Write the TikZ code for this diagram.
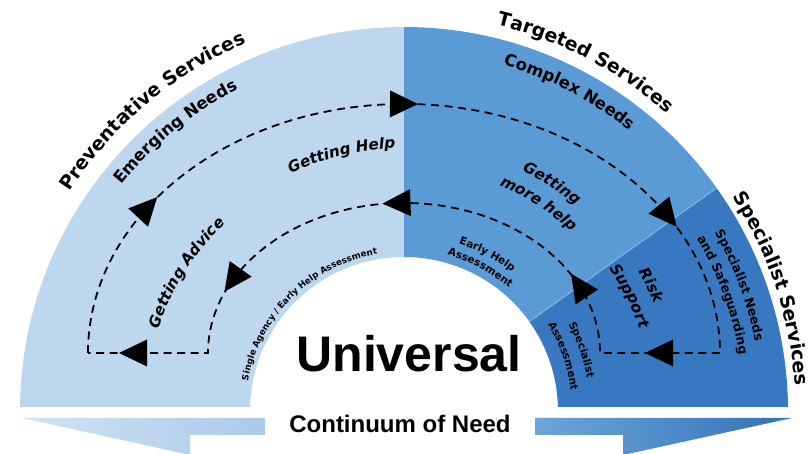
\documentclass[tikz,border=0pt]{standalone}
\usepackage{fontspec}
\setmainfont{DejaVu Sans}
\newfontfamily\arialf{Liberation Sans}
\usetikzlibrary{calc,decorations.text}
\definecolor{lightb}{HTML}{BDD7EE}
\definecolor{medb}{HTML}{5B9BD5}
\definecolor{darkb}{HTML}{3778C1}
\definecolor{sepb}{HTML}{86B3E0}
\newcommand{\fT}{\fontsize{19}{21}\selectfont\bfseries}
\newcommand{\fS}{\fontsize{16.5}{19}\selectfont\bfseries}
\newcommand{\fM}{\fontsize{12.5}{14}\selectfont\bfseries}
\newcommand{\fI}{\fontsize{15.2}{17}\selectfont\bfseries\itshape}
\newcommand{\fSm}{\fontsize{10.5}{12}\selectfont\bfseries}
\newcommand{\fXs}{\fontsize{8.8}{10}\selectfont\bfseries}
\newcommand{\arctext}[4]{\path[decorate,decoration={text along path,text align=center,text={#4}}]
  ($(O)+({#2+#3}:#1)$) arc[start angle={#2+#3},end angle={#2-#3},radius=#1];}
\newcommand{\ehead}[4]{%
  \path (C) ++({#1*cos(#3)},{#2*sin(#3)}) coordinate (hP);
  \path (C) ++({#1*cos(#3+#4)},{#2*sin(#3+#4)}) coordinate (hQ);
  \coordinate (hT) at ($(hP)!14pt!(hQ)$);
  \coordinate (hB) at ($(hP)!-14pt!(hQ)$);
  \fill[black] (hT) -- ($(hB)!13.5pt!90:(hT)$) -- ($(hB)!13.5pt!-90:(hT)$) -- cycle;}
\tikzset{dashline/.style={line width=1.8pt,dash pattern=on 8pt off 5.5pt,black}}
\begin{document}
\begin{tikzpicture}[x=1pt,y=1pt]
\useasboundingbox (0,0) rectangle (811,454);
\coordinate (O) at (404,43);
\coordinate (C) at (404,101);
% sectors
\begin{scope}
\clip (0,47) rectangle (811,454);
\fill[lightb] ($(O)+(90:384)$) arc[start angle=90,end angle=180,radius=384] -- ($(O)+(180:154)$) arc[start angle=180,end angle=90,radius=154] -- cycle;
\fill[medb] ($(O)+(35.5:384)$) arc[start angle=35.5,end angle=90,radius=384] -- ($(O)+(90:154)$) arc[start angle=90,end angle=35.5,radius=154] -- cycle;
\fill[darkb] ($(O)+(0:384)$) arc[start angle=0,end angle=35.5,radius=384] -- ($(O)+(35.5:154)$) arc[start angle=35.5,end angle=0,radius=154] -- cycle;
\end{scope}
\draw[sepb,line width=1pt] ($(O)+(35.5:154)$) -- ($(O)+(35.5:384)$);
% bottom arrows
\shade[left color=lightb!70!white,right color=lightb!80!medb] (22,36) -- (265,36) -- (265,19) -- (190,19) -- (190,-1) -- cycle;
\shade[left color=medb!90!white,right color=darkb!95!black] (535,36) -- (792,36) -- (623,-1) -- (623,19) -- (535,19) -- cycle;
\node[font=\arialf\bfseries\fontsize{24}{26}\selectfont,anchor=base] (cn) at (400,21) {Continuum of Need};
\node[font=\arialf\bfseries\fontsize{50}{52}\selectfont,anchor=base] (uni) at (409,82) {Universal};
% dashed loop
\coordinate (oL) at (88,101);
\coordinate (iR) at (600,101);
\draw[dashline] (oL) arc[start angle=180,end angle=0,x radius=316,y radius=249] -- (iR) arc[start angle=0,end angle=180,x radius=196,y radius=150] -- cycle;
\ehead{316}{249}{144.2}{-1}
\ehead{316}{249}{90}{-1}
\ehead{316}{249}{33.4}{-1}
\ehead{196}{150}{26.8}{1}
\ehead{196}{150}{92.2}{1}
\ehead{196}{150}{151}{1}
\coordinate (hr) at (659,101);
\coordinate (hl) at (133,101);
\fill[black] ($(hr)+(-14,0)$) -- ($(hr)+(14,13.5)$) -- ($(hr)+(14,-13.5)$) -- cycle;
\fill[black] ($(hl)+(-14,0)$) -- ($(hl)+(14,13.5)$) -- ($(hl)+(14,-13.5)$) -- cycle;
% curved texts
\arctext{400}{130}{25}{|\fT|Preventative Services}
\arctext{397}{62.5}{25}{|\fT|Targeted Services}
\arctext{392}{18.4}{17.2}{|\fT|Specialist Services}
\arctext{362}{129.3}{20}{|\fS|Emerging Needs}
\arctext{360}{62.6}{20}{|\fS|Complex Needs}
\arctext{358}{20.5}{17}{|\fM|Specialist Needs}
\arctext{340}{20}{17}{|\fM|and Safeguarding}
\arctext{263}{103.7}{25}{|\fI|Getting Help}
\arctext{259}{147.6}{25}{|\fI|Getting Advice}
\arctext{268}{57}{20}{|\fI|Getting}
\arctext{245}{57}{22}{|\fI|more help}
\arctext{273}{27}{15}{|\fI|Risk}
\arctext{250}{27}{20}{|\fI|Support}
\arctext{176}{62}{25}{|\fSm|Early Help}
\arctext{162}{62}{30}{|\fSm|Assessment}
\arctext{186}{19}{17}{|\fSm|Specialist}
\arctext{168}{19}{17}{|\fSm|Assessment}
\arctext{159}{134.4}{42}{|\fXs|Single Agency / Early Help Assessment}
\end{tikzpicture}
\end{document}
